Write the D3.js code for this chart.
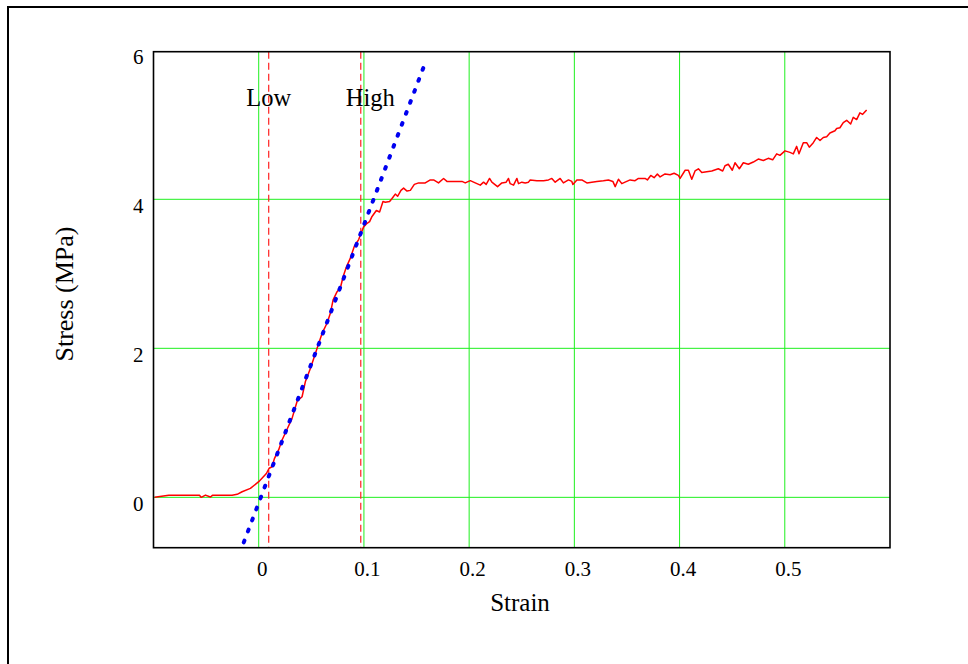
<!DOCTYPE html>
<html>
<head>
<meta charset="utf-8">
<script src="https://cdn.jsdelivr.net/npm/d3@7"></script>
<style>
  body { margin: 0; background: #fff; }
  text { font-family: "Liberation Serif", "Times New Roman", serif; fill: #000; }
</style>
</head>
<body>
<div id="chart"></div>
<script>
// measured stress-strain curve (strain, MPa)
var strain = [-0.099, -0.0855, -0.0563, -0.0547, -0.0506, -0.0459, -0.044, -0.0253, -0.0205, -0.0158,
  -0.0079, 0.0, 0.0073, 0.0099, 0.0127, 0.0149, 0.019, 0.0222, 0.0275, 0.0317,
  0.0365, 0.0412, 0.0443, 0.0491, 0.0522, 0.0555, 0.0602, 0.065, 0.0681, 0.0707,
  0.0745, 0.0776, 0.0802, 0.0833, 0.0871, 0.0909, 0.095, 0.0972, 0.0997, 0.1023,
  0.1054, 0.1077, 0.1118, 0.1149, 0.1181, 0.1203, 0.1244, 0.1267, 0.1298, 0.132,
  0.1352, 0.1377, 0.141, 0.1441, 0.1479, 0.152, 0.1583, 0.1631, 0.1662, 0.1709,
  0.1757, 0.1789, 0.1852, 0.1932, 0.1963, 0.2011, 0.2058, 0.2106, 0.2137, 0.2162,
  0.2194, 0.2216, 0.227, 0.2311, 0.2352, 0.2374, 0.239, 0.2422, 0.2454, 0.2469,
  0.2501, 0.2533, 0.2564, 0.258, 0.2644, 0.2707, 0.2754, 0.2786, 0.2818, 0.2865,
  0.2896, 0.2944, 0.2976, 0.2986, 0.3024, 0.3071, 0.3119, 0.3166, 0.3214, 0.3276,
  0.3324, 0.3366, 0.3388, 0.3419, 0.3451, 0.3482, 0.353, 0.3577, 0.3609, 0.3672,
  0.3694, 0.3726, 0.3758, 0.3789, 0.3815, 0.3862, 0.391, 0.3948, 0.3989, 0.4005,
  0.4053, 0.4084, 0.4116, 0.4147, 0.4179, 0.4211, 0.4258, 0.4306, 0.4368, 0.441,
  0.4432, 0.4463, 0.4501, 0.4527, 0.4568, 0.4606, 0.4653, 0.4701, 0.4748, 0.4796,
  0.4843, 0.4885, 0.4923, 0.4954, 0.5002, 0.5049, 0.5081, 0.5113, 0.5135, 0.5176,
  0.5208, 0.5233, 0.5271, 0.5303, 0.5335, 0.5366, 0.5398, 0.5429, 0.5477, 0.5493,
  0.5524, 0.5556, 0.5588, 0.5626, 0.5651, 0.5683, 0.5714, 0.574, 0.5778];
var stress = [0.0, 0.027, 0.027, 0.0, 0.03, 0.004, 0.027, 0.027, 0.04, 0.075,
  0.12, 0.21, 0.32, 0.39, 0.41, 0.52, 0.64, 0.77, 0.93, 1.06,
  1.29, 1.35, 1.55, 1.73, 1.86, 2.0, 2.2, 2.34, 2.47, 2.65,
  2.76, 2.81, 2.96, 3.09, 3.21, 3.37, 3.46, 3.54, 3.63, 3.67,
  3.7, 3.77, 3.85, 3.83, 3.97, 3.96, 3.97, 4.01, 4.07, 4.04,
  4.12, 4.15, 4.11, 4.12, 4.2, 4.22, 4.22, 4.26, 4.26, 4.22,
  4.28, 4.24, 4.24, 4.24, 4.22, 4.25, 4.22, 4.19, 4.23, 4.2,
  4.28, 4.23, 4.17, 4.22, 4.23, 4.28, 4.21, 4.19, 4.28, 4.21,
  4.23, 4.22, 4.23, 4.26, 4.25, 4.25, 4.26, 4.28, 4.23, 4.28,
  4.22, 4.26, 4.24, 4.2, 4.26, 4.26, 4.22, 4.23, 4.24, 4.25,
  4.26, 4.24, 4.17, 4.27, 4.21, 4.23, 4.26, 4.25, 4.28, 4.28,
  4.26, 4.32, 4.29, 4.34, 4.3, 4.34, 4.33, 4.35, 4.32, 4.28,
  4.39, 4.39, 4.27, 4.38, 4.41, 4.36, 4.37, 4.38, 4.41, 4.38,
  4.45, 4.47, 4.39, 4.49, 4.41, 4.49, 4.47, 4.5, 4.54, 4.52,
  4.55, 4.53, 4.61, 4.59, 4.65, 4.63, 4.61, 4.71, 4.61, 4.76,
  4.76, 4.7, 4.76, 4.83, 4.79, 4.83, 4.84, 4.89, 4.92, 4.95,
  4.96, 5.03, 5.06, 5.01, 5.1, 5.07, 5.16, 5.14, 5.2];

// linear fit (end points)
var fitStrain = [-0.0142, 0.1593];
var fitStress = [-0.604, 5.87];

// fit window limits
var limitStrain = [0.0095, 0.097];
var limitNames = ["Low", "High"];

var xTicks = [0, 0.1, 0.2, 0.3, 0.4, 0.5];
var yTicks = [0, 2, 4, 6];
var yGrid = [0, 2, 4];

var svgWidth = 968;
var svgHeight = 664;

var svg = d3.select("#chart")
  .append("svg")
  .attr("width", svgWidth)
  .attr("height", svgHeight);

// outer frame, only top and left edges are in view
svg.append("rect")
  .attr("x", 8)
  .attr("y", 7)
  .attr("width", 2000)
  .attr("height", 2000)
  .attr("fill", "none")
  .attr("stroke", "#000")
  .attr("stroke-width", 2);

var plotLeft = 153.5, plotRight = 890, plotTop = 51.7, plotBottom = 547.7;

var xScale = d3.scaleLinear()
  .domain([-0.1, 0.6])
  .range([plotLeft, plotRight]);

var yScale = d3.scaleLinear()
  .domain([-0.676, 5.981])
  .range([plotBottom, plotTop]);

var grid = svg.append("g");

grid.selectAll(".vgrid")
  .data(xTicks)
  .enter()
  .append("line")
  .attr("x1", d => xScale(d))
  .attr("x2", d => xScale(d))
  .attr("y1", plotTop)
  .attr("y2", plotBottom)
  .attr("stroke", "#1ef01e")
  .attr("stroke-width", 1);

grid.selectAll(".hgrid")
  .data(yGrid)
  .enter()
  .append("line")
  .attr("x1", plotLeft)
  .attr("x2", plotRight)
  .attr("y1", d => yScale(d))
  .attr("y2", d => yScale(d))
  .attr("stroke", "#1ef01e")
  .attr("stroke-width", 1);

svg.selectAll(".limit")
  .data(limitStrain)
  .enter()
  .append("line")
  .attr("x1", d => xScale(d))
  .attr("x2", d => xScale(d))
  .attr("y1", plotTop)
  .attr("y2", plotBottom)
  .attr("stroke", "#ff2020")
  .attr("stroke-width", 1.2)
  .attr("stroke-dasharray", "7,4");

var line = d3.line()
  .x(d => xScale(d[0]))
  .y(d => yScale(d[1]));

svg.append("path")
  .datum(d3.zip(strain, stress))
  .attr("d", line)
  .attr("fill", "none")
  .attr("stroke", "#ff0000")
  .attr("stroke-width", 1.5)
  .attr("stroke-linejoin", "round");

svg.append("path")
  .datum(d3.zip(fitStrain, fitStress))
  .attr("d", line)
  .attr("fill", "none")
  .attr("stroke", "#0000f0")
  .attr("stroke-width", 4)
  .attr("stroke-linecap", "round")
  .attr("stroke-dasharray", "1.8,9.95");

// plot border
svg.append("rect")
  .attr("x", plotLeft)
  .attr("y", plotTop)
  .attr("width", plotRight - plotLeft)
  .attr("height", plotBottom - plotTop)
  .attr("fill", "none")
  .attr("stroke", "#000")
  .attr("stroke-width", 1.6);

var fmt = d3.format("~g");

var xAxis = svg.append("g")
  .attr("transform", `translate(0, ${plotBottom})`)
  .call(d3.axisBottom(xScale).tickValues(xTicks).tickSize(0).tickPadding(13).tickFormat(fmt));

xAxis.select(".domain").remove();
xAxis.selectAll("text")
  .attr("dx", 3)
  .style("font-size", "21px")
  .style("font-family", "'Liberation Serif', 'Times New Roman', serif");

var yAxis = svg.append("g")
  .attr("transform", `translate(${plotLeft}, 0)`)
  .call(d3.axisLeft(yScale).tickValues(yTicks).tickSize(0).tickPadding(10).tickFormat(fmt));

yAxis.select(".domain").remove();
yAxis.selectAll("text")
  .attr("dy", "0.62em")
  .style("font-size", "21px")
  .style("font-family", "'Liberation Serif', 'Times New Roman', serif");

svg.selectAll(".limitText")
  .data(limitNames)
  .enter()
  .append("text")
  .attr("x", (d, i) => i == 0 ? xScale(limitStrain[i]) : xScale(limitStrain[i]) - 15)
  .attr("y", 106)
  .attr("text-anchor", (d, i) => i == 0 ? "middle" : "start")
  .style("font-size", "24.5px")
  .text(d => d);

svg.append("text")
  .attr("x", 520)
  .attr("y", 611)
  .attr("text-anchor", "middle")
  .style("font-size", "25px")
  .text("Strain");

svg.append("text")
  .attr("transform", "translate(73, 294) rotate(-90)")
  .attr("text-anchor", "middle")
  .style("font-size", "26px")
  .text("Stress (MPa)");
</script>
</body>
</html>
